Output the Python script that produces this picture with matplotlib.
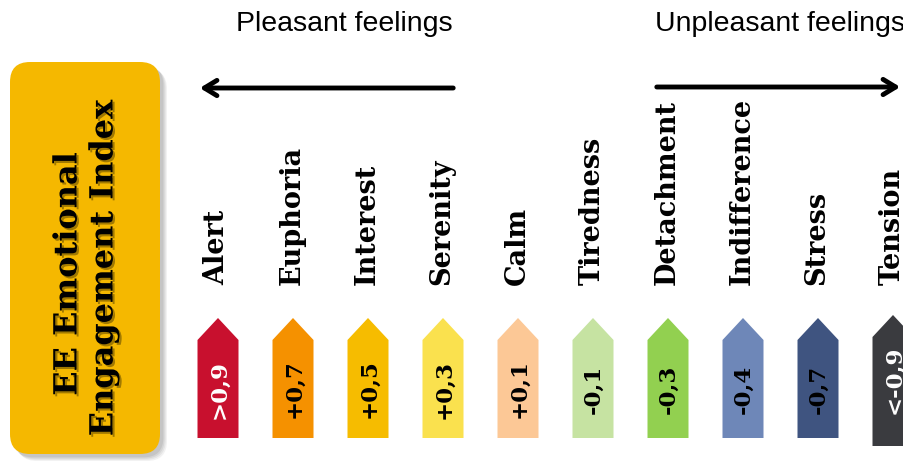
import matplotlib.pyplot as plt
import matplotlib.patheffects as pe
from matplotlib.patches import FancyBboxPatch, Polygon

# emotions, their index values and tag colours
feelings = ['Alert', 'Euphoria', 'Interest', 'Serenity', 'Calm',
            'Tiredness', 'Detachment', 'Indifference', 'Stress', 'Tension']
values = ['>0,9', '+0,7', '+0,5', '+0,3', '+0,1',
          '-0,1', '-0,3', '-0,4', '-0,7', '<-0,9']
colors = ['#C8102E', '#F59100', '#F6BC00', '#FAE14E', '#FCC896',
          '#C6E3A2', '#92D050', '#6E87B8', '#3F5480', '#3A3B3F']
text_colors = ['white', 'black', 'black', 'black', 'black',
               'black', 'black', 'black', 'black', 'white']

W, H = 904, 465
fig = plt.figure(figsize=(W / 100, H / 100), dpi=100)
ax = fig.add_axes([0, 0, 1, 1])
ax.set_xlim(0, W)
ax.set_ylim(H, 0)
ax.axis('off')

serif = 'DejaVu Serif'
sans = 'Liberation Sans'

# left orange box with a soft shadow
for k, a in enumerate([0.10, 0.12, 0.15, 0.18]):
    d = 7 - k * 1.2
    ax.add_patch(FancyBboxPatch((10 + d, 62 + d), 150, 392,
                                boxstyle='round,pad=0,rounding_size=20',
                                fc='#808080', ec='none', alpha=a))
box = FancyBboxPatch((10, 62), 150, 392, boxstyle='round,pad=0,rounding_size=20',
                     fc='#F5B800', ec='none')
ax.add_patch(box)
txt_shadow = [pe.withSimplePatchShadow(offset=(1.5, -1.5), shadow_rgbFace='#6a5000', alpha=0.6)]
ax.text(68, 274, 'EE Emotional', rotation=90, ha='center', va='center',
        fontsize=23, fontweight='bold', family=serif, path_effects=txt_shadow)
ax.text(104, 268, 'Engagement Index', rotation=90, ha='center', va='center',
        fontsize=23, fontweight='bold', family=serif, path_effects=txt_shadow)

# headings and arrows
ax.text(344, 24, 'Pleasant feelings', ha='center', va='center', fontsize=20.5, family=sans)
ax.text(655, 24, 'Unpleasant feelings', ha='left', va='center', fontsize=20.5, family=sans)
ax.annotate('', xy=(197, 88), xytext=(456, 88),
            arrowprops=dict(arrowstyle='->,head_length=0.9,head_width=0.55', lw=3.5, color='black'))
ax.annotate('', xy=(903, 87), xytext=(654, 87),
            arrowprops=dict(arrowstyle='->,head_length=0.9,head_width=0.55', lw=3.5, color='black'))

# tags and labels
x0, step, w = 218, 75, 41
for i, (name, val, c, tc) in enumerate(zip(feelings, values, colors, text_colors)):
    cx = x0 + i * step
    tip, shoulder, bottom = 318, 340, 438
    if i == len(feelings) - 1:
        tip, shoulder, bottom = 315, 337, 446
    pts = [(cx - w / 2, bottom), (cx - w / 2, shoulder), (cx, tip),
           (cx + w / 2, shoulder), (cx + w / 2, bottom)]
    ax.add_patch(Polygon(pts, closed=True, fc=c, ec='none'))
    ty = 389 if i < len(feelings) - 1 else 380
    ax.text(cx + 1, ty, val, rotation=90, ha='center', va='center', color=tc,
            fontsize=16.5, fontweight='bold', family=serif)
    ax.text(cx - 1, 285, name, rotation=90, ha='center', va='bottom',
            fontsize=19.5, fontweight='bold', family=serif)

fig.savefig('out.png', dpi=100)
